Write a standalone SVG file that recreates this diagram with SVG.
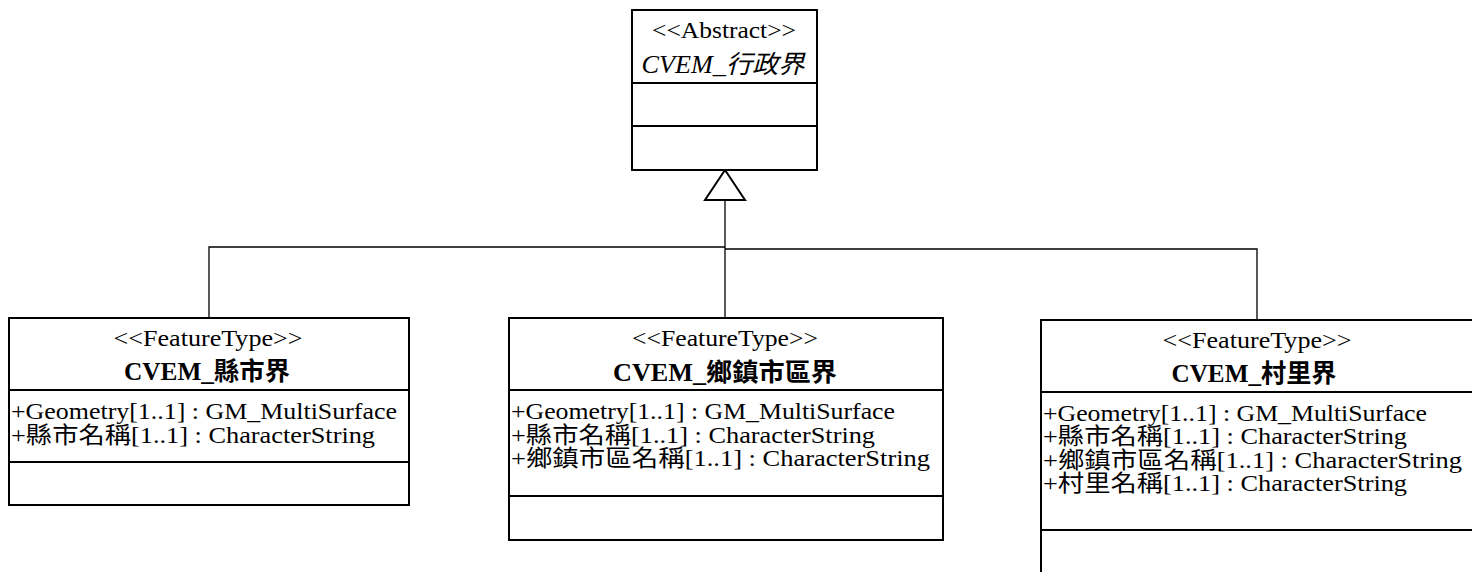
<svg xmlns="http://www.w3.org/2000/svg" width="1472" height="572" viewBox="0 0 1472 572">
<style>
.box{fill:#fff;stroke:#000;stroke-width:2}
.div{stroke:#000;stroke-width:2}
.t{font-family:"Liberation Serif","Noto Sans CJK TC",serif;font-size:23px;fill:#000}
.h{font-size:25px}
.c{text-anchor:middle}
.b{font-weight:bold}
.i{font-style:italic}
.con{fill:none;stroke:#000;stroke-width:1.3}
</style>
<rect width="1472" height="572" fill="#fff"/>
<g id="connectors">
<polyline class="con" points="209,318 209,247 725,247"/>
<polyline class="con" points="725,249 1257,249 1257,320"/>
<line class="con" x1="725" y1="200" x2="725" y2="318"/>
<polygon points="725,170 705,200 745,200" fill="#fff" stroke="#000" stroke-width="2"/>
</g>
<g id="abstract">
<rect class="box" x="632" y="10" width="185" height="160"/>
<line class="div" x1="632" y1="83" x2="817" y2="83"/>
<line class="div" x1="632" y1="126" x2="817" y2="126"/>
<text class="t c" x="724" y="38" textLength="144" lengthAdjust="spacingAndGlyphs">&lt;&lt;Abstract&gt;&gt;</text>
<text class="t c h i" x="723" y="73" textLength="163" lengthAdjust="spacingAndGlyphs">CVEM_行政界</text>
</g>
<g id="county">
<rect class="box" x="9" y="318" width="400" height="187"/>
<line class="div" x1="9" y1="390" x2="409" y2="390"/>
<line class="div" x1="9" y1="462" x2="409" y2="462"/>
<text class="t c" x="208" y="346" textLength="189" lengthAdjust="spacingAndGlyphs">&lt;&lt;FeatureType&gt;&gt;</text>
<text class="t c h b" x="207" y="380" textLength="166" lengthAdjust="spacingAndGlyphs">CVEM_縣市界</text>
<text class="t" x="11" y="419" textLength="386" lengthAdjust="spacingAndGlyphs">+Geometry[1..1] : GM_MultiSurface</text>
<text class="t" x="11" y="443" textLength="364" lengthAdjust="spacingAndGlyphs">+縣市名稱[1..1] : CharacterString</text>
</g>
<g id="township">
<rect class="box" x="509" y="318" width="434" height="222"/>
<line class="div" x1="509" y1="390" x2="943" y2="390"/>
<line class="div" x1="509" y1="496" x2="943" y2="496"/>
<text class="t c" x="725" y="346" textLength="186" lengthAdjust="spacingAndGlyphs">&lt;&lt;FeatureType&gt;&gt;</text>
<text class="t c h b" x="725" y="381" textLength="224" lengthAdjust="spacingAndGlyphs">CVEM_鄉鎮市區界</text>
<text class="t" x="511" y="419" textLength="384" lengthAdjust="spacingAndGlyphs">+Geometry[1..1] : GM_MultiSurface</text>
<text class="t" x="511" y="443" textLength="364" lengthAdjust="spacingAndGlyphs">+縣市名稱[1..1] : CharacterString</text>
<text class="t" x="511" y="466" textLength="419" lengthAdjust="spacingAndGlyphs">+鄉鎮市區名稱[1..1] : CharacterString</text>
</g>
<g id="village">
<rect class="box" x="1041" y="320" width="440" height="262"/>
<line class="div" x1="1041" y1="392" x2="1472" y2="392"/>
<line class="div" x1="1041" y1="530" x2="1472" y2="530"/>
<text class="t c" x="1257" y="348" textLength="189" lengthAdjust="spacingAndGlyphs">&lt;&lt;FeatureType&gt;&gt;</text>
<text class="t c h b" x="1254" y="382" textLength="165" lengthAdjust="spacingAndGlyphs">CVEM_村里界</text>
<text class="t" x="1043" y="421" textLength="384" lengthAdjust="spacingAndGlyphs">+Geometry[1..1] : GM_MultiSurface</text>
<text class="t" x="1043" y="444" textLength="364" lengthAdjust="spacingAndGlyphs">+縣市名稱[1..1] : CharacterString</text>
<text class="t" x="1043" y="468" textLength="419" lengthAdjust="spacingAndGlyphs">+鄉鎮市區名稱[1..1] : CharacterString</text>
<text class="t" x="1043" y="491" textLength="364" lengthAdjust="spacingAndGlyphs">+村里名稱[1..1] : CharacterString</text>
</g>
</svg>
